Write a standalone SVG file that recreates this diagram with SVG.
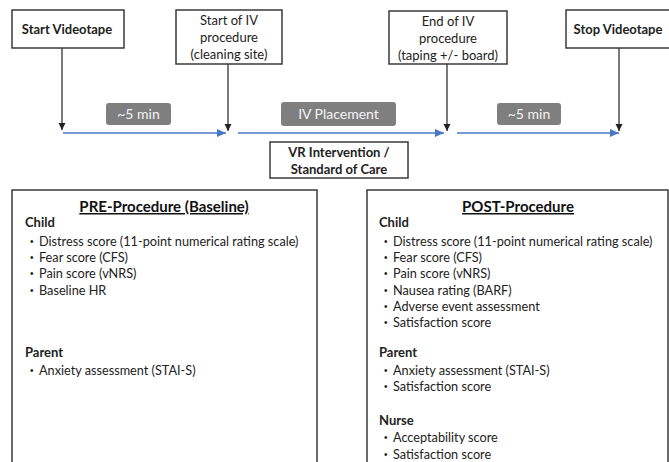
<svg xmlns="http://www.w3.org/2000/svg" width="669" height="462" viewBox="0 0 669 462">
<defs>
<style>
.box{fill:#fff;stroke:#3a3a3a;stroke-width:1.5}
.t{font-family:Lato,"Liberation Sans",sans-serif;font-size:13px;fill:#222}
.s{font-size:12.7px}
.bu{font-family:"Liberation Sans",sans-serif;font-size:10px;fill:#222}
.b{font-weight:bold}
.c{text-anchor:middle}
.vl{stroke:#222;stroke-width:1.2;fill:none}
.bl{stroke:#4a78c8;stroke-width:1.6;fill:none}
.lab{fill:#7f7f7f}
.lt{font-family:Lato,"Liberation Sans",sans-serif;font-size:14px;fill:#f4f4f4;text-anchor:middle}
.h{font-family:Lato,"Liberation Sans",sans-serif;font-size:15px;font-weight:bold;text-decoration:underline;fill:#111;text-anchor:middle}
</style>
<marker id="ak" markerWidth="8" markerHeight="8" refX="7" refY="4" orient="auto" markerUnits="userSpaceOnUse"><path d="M0,0.5 L7,4 L0,7.5 Z" fill="#222"/></marker>
<marker id="ab" markerWidth="10" markerHeight="10" refX="9" refY="5" orient="auto" markerUnits="userSpaceOnUse"><path d="M0,1 L9,5 L0,9 Z" fill="#4a78c8"/></marker>
</defs>
<rect width="669" height="462" fill="#fff"/>

<g id="connectors">
<line class="vl" x1="62" y1="48" x2="62" y2="130" marker-end="url(#ak)"/>
<line class="vl" x1="228" y1="64" x2="228" y2="131" marker-end="url(#ak)"/>
<line class="vl" x1="447" y1="64" x2="447" y2="131" marker-end="url(#ak)"/>
<line class="vl" x1="619" y1="48" x2="619" y2="131" marker-end="url(#ak)"/>
<line class="bl" x1="63" y1="133" x2="226" y2="133" marker-end="url(#ab)"/>
<line class="bl" x1="238" y1="133" x2="444" y2="133" marker-end="url(#ab)"/>
<line class="bl" x1="457" y1="133" x2="619" y2="133" marker-end="url(#ab)"/>
</g>

<g id="start-videotape">
<rect class="box" x="12" y="10" width="112" height="38"/>
<text class="t b c" x="67" y="34">Start Videotape</text>
</g>
<g id="start-iv">
<rect class="box" x="176" y="10" width="106" height="54"/>
<text class="t c" x="229" y="25">Start of IV</text>
<text class="t c" x="229" y="42">procedure</text>
<text class="t c" x="229" y="59">(cleaning site)</text>
</g>
<g id="end-iv">
<rect class="box" x="389" y="11" width="118" height="53"/>
<text class="t c" x="448" y="26">End of IV</text>
<text class="t c" x="448" y="43">procedure</text>
<text class="t c" x="448" y="60">(taping +/- board)</text>
</g>
<g id="stop-videotape">
<rect class="box" x="566" y="10" width="106" height="38"/>
<text class="t b c" x="618" y="34">Stop Videotape</text>
</g>

<g id="label-5min-1">
<rect class="lab" x="106" y="103" width="65" height="22" rx="3"/>
<text class="lt" x="138.5" y="119">~5 min</text>
</g>
<g id="label-iv-placement">
<rect class="lab" x="281" y="102" width="115" height="24" rx="3"/>
<text class="lt" x="338.5" y="119">IV Placement</text>
</g>
<g id="label-5min-2">
<rect class="lab" x="497" y="103" width="64" height="22" rx="3"/>
<text class="lt" x="529" y="119">~5 min</text>
</g>

<g id="vr-intervention">
<rect class="box" x="270" y="142" width="138" height="36"/>
<text class="t b c" x="339" y="157">VR Intervention /</text>
<text class="t b c" x="339" y="174">Standard of Care</text>
</g>

<g id="pre-procedure">
<rect class="box" x="12" y="190" width="305" height="290"/>
<text class="h" x="164" y="212">PRE-Procedure (Baseline)</text>
<text class="t b" x="25" y="227">Child</text>
<text class="bu" x="30" y="245">•</text><text class="t s" x="39" y="246">Distress score (11-point numerical rating scale)</text>
<text class="bu" x="30" y="261">•</text><text class="t s" x="39" y="262">Fear score (CFS)</text>
<text class="bu" x="30" y="277">•</text><text class="t s" x="39" y="278">Pain score (vNRS)</text>
<text class="bu" x="30" y="294">•</text><text class="t s" x="39" y="295">Baseline HR</text>
<text class="t b" x="25" y="357">Parent</text>
<text class="bu" x="30" y="374">•</text><text class="t s" x="39" y="375">Anxiety assessment (STAI-S)</text>
</g>

<g id="post-procedure">
<rect class="box" x="367" y="190" width="301" height="290"/>
<text class="h" x="518" y="212">POST-Procedure</text>
<text class="t b" x="379" y="227">Child</text>
<text class="bu" x="384" y="245">•</text><text class="t s" x="393" y="246">Distress score (11-point numerical rating scale)</text>
<text class="bu" x="384" y="261">•</text><text class="t s" x="393" y="262">Fear score (CFS)</text>
<text class="bu" x="384" y="277">•</text><text class="t s" x="393" y="278">Pain score (vNRS)</text>
<text class="bu" x="384" y="294">•</text><text class="t s" x="393" y="295">Nausea rating (BARF)</text>
<text class="bu" x="384" y="310">•</text><text class="t s" x="393" y="311">Adverse event assessment</text>
<text class="bu" x="384" y="326">•</text><text class="t s" x="393" y="327">Satisfaction score</text>
<text class="t b" x="379" y="357">Parent</text>
<text class="bu" x="384" y="374">•</text><text class="t s" x="393" y="375">Anxiety assessment (STAI-S)</text>
<text class="bu" x="384" y="390">•</text><text class="t s" x="393" y="391">Satisfaction score</text>
<text class="t b" x="379" y="425">Nurse</text>
<text class="bu" x="384" y="441">•</text><text class="t s" x="393" y="442">Acceptability score</text>
<text class="bu" x="384" y="458">•</text><text class="t s" x="393" y="459">Satisfaction score</text>
</g>
</svg>
